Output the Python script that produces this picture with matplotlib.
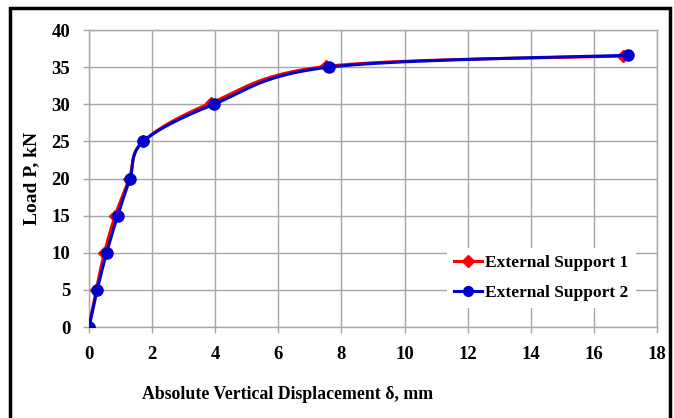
import numpy as np
import matplotlib
matplotlib.use("Agg")
import matplotlib.pyplot as plt
from matplotlib.patches import Rectangle

# load-displacement readings for the two external supports
disp_1 = [0.0, 0.23, 0.49, 0.83, 1.28, 1.72, 3.88, 7.52, 16.93]
load_1 = [0, 5, 10, 15, 20, 25, 30.2, 35.1, 36.5]
disp_2 = [0.0, 0.26, 0.56, 0.91, 1.30, 1.72, 3.96, 7.60, 17.09]
load_2 = [0, 5, 10, 15, 20, 25, 30, 35, 36.6]

x_ticks = [0, 2, 4, 6, 8, 10, 12, 14, 16, 18]
y_ticks = [0, 5, 10, 15, 20, 25, 30, 35, 40]


def smooth(x, y, n=30):
    # catmull-rom curve through the points, like a spreadsheet "smoothed line"
    x = np.asarray(x, float)
    y = np.asarray(y, float)
    px = np.concatenate([[x[0]], x, [x[-1]]])
    py = np.concatenate([[y[0]], y, [y[-1]]])
    t = np.linspace(0, 1, n)[:, None]
    xs, ys = [], []
    for i in range(1, len(px) - 2):
        p0, p1, p2, p3 = [np.array([px[j], py[j]]) for j in (i - 1, i, i + 1, i + 2)]
        seg = 0.5 * ((2 * p1) + (-p0 + p2) * t
                     + (2 * p0 - 5 * p1 + 4 * p2 - p3) * t ** 2
                     + (-p0 + 3 * p1 - 3 * p2 + p3) * t ** 3)
        xs.append(seg[:, 0])
        ys.append(seg[:, 1])
    return np.concatenate(xs), np.concatenate(ys)


plt.rcParams['font.family'] = ['Liberation Serif', 'DejaVu Serif']
plt.rcParams['font.weight'] = 'bold'

fig = plt.figure(figsize=(6.74, 4.18), dpi=100)
ax = fig.add_axes([0.132, 0.2177, 0.843, 0.7105])

red = '#FF0000'
blue = '#0000CC'

sx, sy = smooth(disp_1, load_1)
ax.plot(sx, sy, color=red, lw=2.2, zorder=3)
ax.plot(disp_1, load_1, ls='none', marker='D', ms=6.5, color=red, zorder=4)
sx, sy = smooth(disp_2, load_2)
ax.plot(sx, sy, color=blue, lw=2.2, zorder=5)
ax.plot(disp_2, load_2, ls='none', marker='o', ms=8, color=blue, zorder=6)

# empty handles for the legend
ax.plot([], [], color=red, lw=2.2, marker='D', ms=6, label='External Support 1')
ax.plot([], [], color=blue, lw=2.2, marker='o', ms=7, label='External Support 2')

ax.set_xlim(0, 18)
ax.set_ylim(0, 40)
ax.set_xticks(x_ticks)
ax.set_yticks(y_ticks)
ax.grid(True, color='#a6a6a6', lw=1)
ax.set_axisbelow(True)
for s in ax.spines.values():
    s.set_color('#a6a6a6')
    s.set_linewidth(1)
ax.tick_params(direction='out', length=4.5, width=1, color='#a6a6a6',
               labelsize=13.5, pad=9)
for lab in ax.get_xticklabels() + ax.get_yticklabels():
    lab.set_fontweight('bold')

ax.set_ylabel('Load P, kN', fontsize=14, fontweight='bold', labelpad=8)
fig.text(288 / 674, 0.057, 'Absolute Vertical Displacement δ, mm',
         fontsize=12.8, fontweight='bold', ha='center', va='center')

leg = ax.legend(loc='lower right', bbox_to_anchor=(0.962, 0.065), frameon=True,
                fontsize=12.5, handlelength=1.6, handletextpad=0.2,
                labelspacing=0.8, borderaxespad=0)
leg.get_frame().set_edgecolor('none')
leg.get_frame().set_facecolor('white')
leg.get_frame().set_alpha(1)
for t in leg.get_texts():
    t.set_fontweight('bold')

# outer chart frame
fig.patches.append(Rectangle((10 / 674, -0.05), 660 / 674, 1.05 - 8 / 418,
                             transform=fig.transFigure, fill=False,
                             edgecolor='black', lw=2.5))

fig.savefig('out.png', dpi=100)
